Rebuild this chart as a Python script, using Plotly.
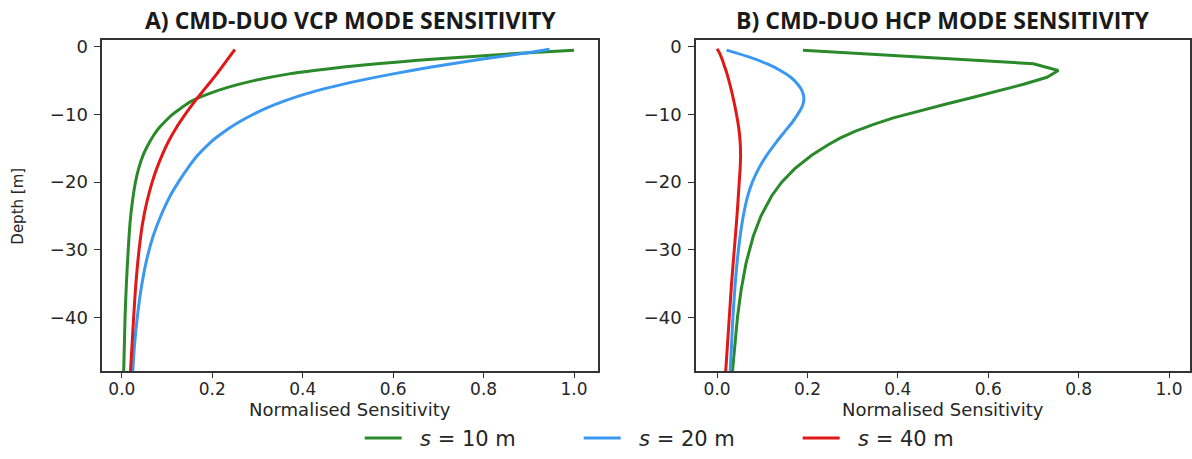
import plotly.graph_objects as go

# ---------------- data ----------------
NB = "\u00a0\u00a0"
series_names = [NB + "<i>s</i> = 10 m", NB + "<i>s</i> = 20 m", NB + "<i>s</i> = 40 m"]
series_colors = ["#2a8a2a", "#3a98f0", "#e01818"]

panel_titles = ["A) CMD-DUO VCP MODE SENSITIVITY", "B) CMD-DUO HCP MODE SENSITIVITY"]
x_title = "Normalised Sensitivity"
y_title = "Depth [m]"
x_ticks = [0.0, 0.2, 0.4, 0.6, 0.8, 1.0]
y_ticks = [0, -10, -20, -30, -40]

# VCP mode
vcp_s10_depth = [-0.5, -1.0, -1.5, -2, -2.5, -3, -3.5, -4, -5, -6, -7, -8, -9, -10, -11, -12, -13, -14, -16, -18, -20, -23, -26, -30, -35, -40, -48]
vcp_s10_sens = [1.0, 0.87, 0.76, 0.655, 0.565, 0.49, 0.425, 0.37, 0.292, 0.234, 0.19, 0.155, 0.132, 0.112, 0.096, 0.082, 0.071, 0.062, 0.047, 0.037, 0.03, 0.023, 0.018, 0.014, 0.01, 0.007, 0.004]

vcp_s20_depth = [-0.35, -1, -1.5, -2, -3, -4, -5, -6, -7, -8, -9, -10, -11, -12, -13, -14, -16, -18, -20, -22, -25, -28, -32, -36, -40, -44, -48]
vcp_s20_sens = [0.946, 0.885, 0.83, 0.78, 0.685, 0.60, 0.525, 0.46, 0.405, 0.36, 0.322, 0.29, 0.262, 0.238, 0.217, 0.198, 0.168, 0.145, 0.125, 0.107, 0.086, 0.069, 0.053, 0.042, 0.034, 0.028, 0.024]

vcp_s40_depth = [-0.4, -2, -4, -6, -8, -10, -12, -14, -16, -18, -20, -23, -26, -30, -35, -40, -48]
vcp_s40_sens = [0.25, 0.232, 0.21, 0.186, 0.162, 0.14, 0.12, 0.103, 0.089, 0.077, 0.067, 0.055, 0.046, 0.038, 0.031, 0.026, 0.019]

# HCP mode
hcp_s10_depth = [-0.5, -2.5, -3.5, -4.5, -5.5, -6.5, -7.5, -8.5, -9.5, -10.5, -11.5, -12.5, -13.5, -14.5, -16, -18, -20, -22, -25, -28, -32, -36, -40, -44, -48]
hcp_s10_sens = [0.19, 0.70, 0.755, 0.73, 0.68, 0.625, 0.565, 0.505, 0.445, 0.39, 0.345, 0.305, 0.272, 0.245, 0.21, 0.172, 0.143, 0.121, 0.097, 0.08, 0.064, 0.053, 0.045, 0.039, 0.034]

hcp_s20_depth = [-0.5, -1.5, -2.5, -3.5, -4.5, -5.5, -6.5, -7.5, -8.5, -9.5, -11, -12.5, -14, -16, -18, -20, -22, -25, -28, -32, -36, -40, -44, -48]
hcp_s20_sens = [0.021, 0.07, 0.11, 0.14, 0.163, 0.178, 0.188, 0.192, 0.19, 0.183, 0.168, 0.15, 0.132, 0.11, 0.092, 0.078, 0.068, 0.058, 0.051, 0.044, 0.039, 0.035, 0.032, 0.029]

hcp_s40_depth = [-0.3, -1, -2, -3, -4, -6, -8, -10, -12, -14, -16, -18, -20, -25, -30, -35, -40, -48]
hcp_s40_sens = [0.0, 0.006, 0.012, 0.017, 0.022, 0.03, 0.037, 0.043, 0.048, 0.051, 0.052, 0.051, 0.049, 0.044, 0.038, 0.032, 0.027, 0.019]

# ---------------- figure ----------------
W, H = 1192, 459

fig = go.Figure()

panels = [
    [(vcp_s10_sens, vcp_s10_depth), (vcp_s20_sens, vcp_s20_depth), (vcp_s40_sens, vcp_s40_depth)],
    [(hcp_s10_sens, hcp_s10_depth), (hcp_s20_sens, hcp_s20_depth), (hcp_s40_sens, hcp_s40_depth)],
]
axes = [("x", "y"), ("x2", "y2")]

for p, data in enumerate(panels):
    for i, (xs, ys) in enumerate(data):
        shape = "linear" if (p == 1 and i == 0) else "spline"
        fig.add_trace(go.Scatter(
            x=xs, y=ys, mode="lines", name=series_names[i],
            line=dict(color=series_colors[i], width=3, shape=shape, smoothing=0.8),
            xaxis=axes[p][0], yaxis=axes[p][1], showlegend=(p == 0),
        ))

dom_a = [102.3 / W, 598.3 / W]
dom_b = [696.7 / W, (W - 1.0) / W]
dom_y = [(H - 372.2) / H, (H - 36.5) / H]

common_x = dict(tickvals=x_ticks, tickformat=".1f", ticks="outside", ticklen=5, tickwidth=1.3,
                tickcolor="#333", showline=True, linecolor="#333", linewidth=1.5, mirror=True,
                showgrid=False, zeroline=False, ticklabelstandoff=-3,
                tickfont=dict(family="DejaVu Sans", size=17, color="#262626"))
common_y = dict(tickvals=y_ticks, ticks="outside", ticklen=6, tickwidth=1.3, tickcolor="#333",
                showline=True, linecolor="#333", linewidth=1.5, mirror=True, showgrid=False,
                zeroline=False, tickfont=dict(family="DejaVu Sans", size=18, color="#262626"),
                range=[-47.95, 1.0], ticklabelstandoff=3)

fig.update_layout(
    width=W, height=H, paper_bgcolor="white", plot_bgcolor="white",
    margin=dict(l=0, r=0, t=0, b=0),
    xaxis=dict(domain=dom_a, range=[-0.0435, 1.0526], anchor="y", **common_x),
    yaxis=dict(domain=dom_y, anchor="x", **common_y),
    xaxis2=dict(domain=dom_b, range=[-0.0464, 1.0464], anchor="y2", **common_x),
    yaxis2=dict(domain=dom_y, anchor="x2", **common_y),
    legend=dict(orientation="h", x=360 / W, xanchor="left", y=(H - 440) / H, yanchor="middle",
                font=dict(family="DejaVu Sans", size=21, color="#262626"),
                itemwidth=37, entrywidth=167, entrywidthmode="pixels", bgcolor="rgba(0,0,0,0)"),
    showlegend=True,
)

annos = []
for p, dom in enumerate([dom_a, dom_b]):
    cx = (dom[0] + dom[1]) / 2
    annos.append(dict(text="<b>" + panel_titles[p] + "</b>", x=cx, y=(H - 16) / H, xref="paper", yref="paper",
                      showarrow=False, xanchor="center", yanchor="middle",
                      font=dict(family="Open Sans", size=23, color="#1a1a1a")))
    annos.append(dict(text=x_title, x=cx, y=(H - 411) / H, xref="paper", yref="paper",
                      showarrow=False, xanchor="center", yanchor="middle",
                      font=dict(family="DejaVu Sans", size=18, color="#262626")))
annos.append(dict(text=y_title, x=18 / W, y=(dom_y[0] + dom_y[1]) / 2, xref="paper", yref="paper",
                  showarrow=False, xanchor="center", yanchor="middle", textangle=-90,
                  font=dict(family="DejaVu Sans", size=15, color="#262626")))
fig.update_layout(annotations=annos)

# remove the default 8px page margin so the figure fills the 1192x459 window exactly
fig.write_html("out.html", config={"displayModeBar": False},
               post_script="document.body.style.margin='0';")
